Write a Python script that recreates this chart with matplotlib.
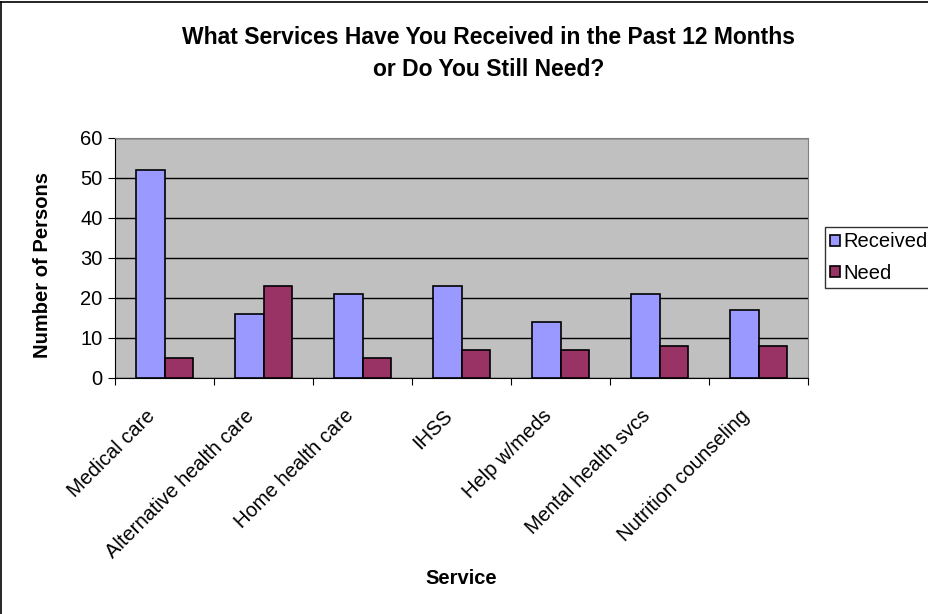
import matplotlib.pyplot as plt
import matplotlib.lines as mlines
from matplotlib.transforms import ScaledTranslation
import numpy as np

plt.rcParams['font.family'] = ['Liberation Sans', 'DejaVu Sans']

services = ['Medical care', 'Alternative health care', 'Home health care', 'IHSS',
            'Help w/meds', 'Mental health svcs', 'Nutrition counseling']
received = [52, 16, 21, 23, 14, 21, 17]
need = [5, 23, 5, 7, 7, 8, 8]

fig = plt.figure(figsize=(9.29, 6.14), dpi=100)
ax = fig.add_axes([0.1238, 0.3844, 0.746, 0.3909])
ax.set_facecolor('#C0C0C0')

x = np.arange(len(services))
w = 1 / 3.5
ax.bar(x - w / 2, received, w, color='#9999FF', edgecolor='black', linewidth=1.2,
       label='Received', zorder=3)
ax.bar(x + w / 2, need, w, color='#993366', edgecolor='black', linewidth=1.2,
       label='Need', zorder=3)

ax.set_xlim(-0.5, len(services) - 0.5)
ax.set_ylim(0, 60)
ax.set_yticks(range(0, 61, 10))
ax.yaxis.grid(True, color='black', linewidth=1, zorder=1)
ax.set_axisbelow(True)

# ticks at category boundaries, labels centred on categories
ax.set_xticks(np.arange(-0.5, len(services) + 0.5, 1))
ax.set_xticklabels([])
ax.set_xticks(x, minor=True)
ax.set_xticklabels(services, minor=True, rotation=45, ha='right', va='center',
                   rotation_mode='anchor', fontsize=14.5)
ax.tick_params(axis='x', which='minor', length=0, pad=25)
ax.tick_params(axis='x', which='major', length=5, direction='out', color='black')
ax.tick_params(axis='y', length=5, direction='out', labelsize=14.5, pad=4)
shift = ScaledTranslation(-0.12, 0, fig.dpi_scale_trans)
for lbl in ax.get_xticklabels(minor=True):
    lbl.set_transform(lbl.get_transform() + shift)

ax.spines['top'].set_color('#808080')
ax.spines['right'].set_color('#808080')
ax.spines['left'].set_color('black')
ax.spines['bottom'].set_color('black')

ax.set_ylabel('Number of Persons', fontsize=14.5, fontweight='bold', va='center', ha='center')
ax.yaxis.set_label_coords(-0.105, 0.47)
ax.set_xlabel('Service', fontsize=14.5, fontweight='bold', va='center', ha='center')
ax.xaxis.set_label_coords(0.5, -0.8375)

fig.text(0.526, 1 - 38 / 614, 'What Services Have You Received in the Past 12 Months',
         ha='center', va='center', fontsize=16.5, fontweight='bold')
fig.text(0.526, 1 - 70 / 614, 'or Do You Still Need?',
         ha='center', va='center', fontsize=16.5, fontweight='bold')

leg = ax.legend(loc='center left', bbox_to_anchor=(1.0245, 0.502), frameon=True,
                fancybox=False, edgecolor='black', fontsize=14.5, handlelength=0.5,
                handleheight=0.5, handletextpad=0.15, borderpad=0.25,
                labelspacing=0.6, borderaxespad=0)
leg.get_frame().set_linewidth(1)

# chart-area border (right and bottom edges fall outside the image)
fig.add_artist(mlines.Line2D([0.0015, 0.0015], [0, 0.997], transform=fig.transFigure,
                             color='black', linewidth=1.2))
fig.add_artist(mlines.Line2D([0.0015, 1], [0.997, 0.997], transform=fig.transFigure,
                             color='black', linewidth=1.2))

fig.savefig('out.png', dpi=100)
